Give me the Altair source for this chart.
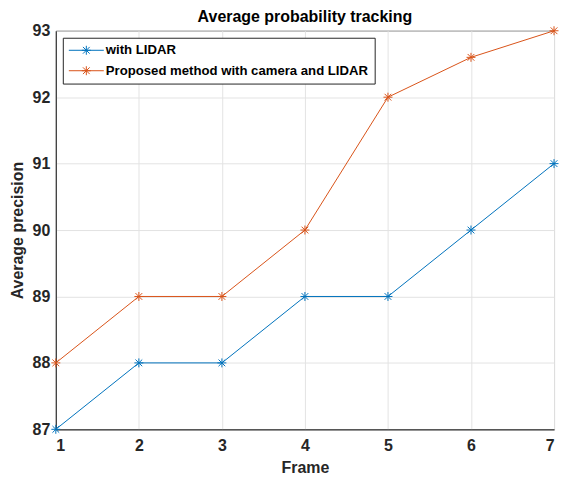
import altair as alt
import pandas as pd

frames = [1, 2, 3, 4, 5, 6, 7]
lidar = [87, 88, 88, 89, 89, 90, 91]
proposed = [88, 89, 89, 90, 92, 92.6, 93]
series_names = ["with LIDAR", "Proposed method with camera and LIDAR"]
colors = ["#0072BD", "#D95319"]
y_ticks = [87, 88, 89, 90, 91, 92, 93]

rows = []
for f, v in zip(frames, lidar):
    rows.append({"Frame": f, "value": v, "series": series_names[0]})
for f, v in zip(frames, proposed):
    rows.append({"Frame": f, "value": v, "series": series_names[1]})
df = pd.DataFrame(rows)

asterisk = "M-1,0L1,0M0,-1L0,1M-0.75,-0.75L0.75,0.75M-0.75,0.75L0.75,-0.75"
legend_sym = "M-3.9,0L3.9,0M-1,0L1,0M0,-1L0,1M-0.75,-0.75L0.75,0.75M-0.75,0.75L0.75,-0.75"

color = alt.Color(
    "series:N",
    scale=alt.Scale(domain=series_names, range=colors),
    sort=series_names,
    legend=alt.Legend(
        title=None,
        orient="none",
        legendX=7,
        legendY=7,
        symbolType=legend_sym,
        symbolSize=81,
        symbolStrokeWidth=1,
        symbolFillColor="transparent",
        labelFont="Liberation Sans",
        labelFontSize=13.2,
        labelFontWeight="bold",
        labelColor="#000000",
        labelLimit=400,
        strokeColor="#262626",
        fillColor="#ffffff",
        padding=6,
        rowPadding=5.5,
        symbolOffset=11,
        labelOffset=13,
    ),
)

x = alt.X(
    "Frame:Q",
    scale=alt.Scale(domain=[1, 7], nice=False),
    axis=alt.Axis(values=frames, format="d", title="Frame"),
)
y = alt.Y(
    "value:Q",
    scale=alt.Scale(domain=[87, 93], nice=False, zero=False),
    axis=alt.Axis(values=y_ticks, format="d", title="Average precision"),
)

lines = alt.Chart(df).mark_line(strokeWidth=1).encode(x=x, y=y, color=color)
points = alt.Chart(df).mark_point(shape=asterisk, size=81, filled=False, strokeWidth=1, opacity=1).encode(
    x=x, y=y, color=alt.Color("series:N", scale=alt.Scale(domain=series_names, range=colors), legend=None)
)

chart = (
    alt.layer(lines, points)
    .properties(
        width=500,
        height=400,
        padding={"left": 1, "top": 0, "right": 0, "bottom": 0},
        title=alt.TitleParams(
            "Average probability tracking",
            font="Liberation Sans",
            fontSize=16,
            fontWeight="bold",
            color="#000000",
            offset=-2,
        ),
    )
    .configure_view(stroke="#262626", strokeWidth=1)
    .configure_axis(
        labelFont="Liberation Sans",
        labelFontSize=16,
        labelFontWeight="bold",
        labelColor="#262626",
        titleFont="Liberation Sans",
        titleFontSize=16,
        titleFontWeight="bold",
        titleColor="#262626",
        gridColor="#e3e3e3",
        domainColor="#262626",
        ticks=False,
    )
    .configure_axisY(titlePadding=7, labelPadding=6)
    .configure_axisX(titlePadding=6, labelPadding=8)
)

chart.save("out.html", embed_options={"renderer": "svg", "actions": False})
